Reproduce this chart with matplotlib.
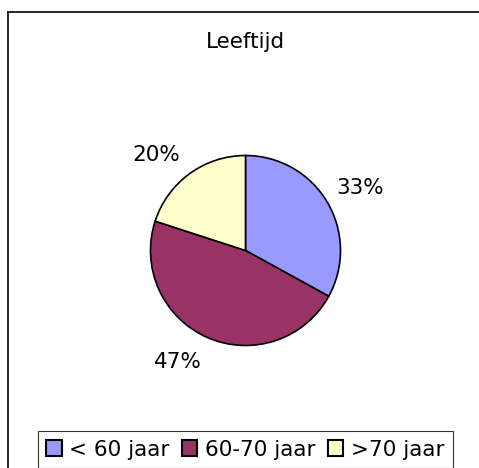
import matplotlib
matplotlib.use('Agg')
import matplotlib.pyplot as plt
from matplotlib.lines import Line2D
import numpy as np

# Data
categories = ['< 60 jaar', '60-70 jaar', '>70 jaar']
values = [33, 47, 20]
colors = ['#9999FF', '#993366', '#FFFFCC']
title = 'Leeftijd'

W, H = 479, 468
fig = plt.figure(figsize=(W / 100, H / 100), dpi=100)
plt.rcParams['font.family'] = 'DejaVu Sans'

# outer frame (only left and top visible)
fig.add_artist(Line2D([7.5 / W, 7.5 / W], [0, 1 - 12 / H], color='black', lw=1.2))
fig.add_artist(Line2D([7.5 / W, 1], [1 - 12 / H, 1 - 12 / H], color='black', lw=1.2))

# pie axes, centre (245.5, 250.5) px, radius 95 px
cx, cy, r = 245.5, 250.5, 95
ax = fig.add_axes([(cx - r) / W, 1 - (cy + r) / H, 2 * r / W, 2 * r / H])
wedges, texts, autotexts = ax.pie(values, colors=colors, startangle=90, counterclock=False,
                                  autopct='%d%%', pctdistance=1.37,
                                  wedgeprops=dict(edgecolor='black', linewidth=1.2),
                                  textprops=dict(fontsize=15.5, color='black'))
ax.set_xlim(-1, 1)
ax.set_ylim(-1, 1)

# Excel "best fit" nudges the small labels a bit around the pie
nudge = [-2, -8, 7]
for t, w, d in zip(autotexts, wedges, nudge):
    a = np.deg2rad((w.theta1 + w.theta2) / 2 + d)
    t.set_position((1.37 * np.cos(a), 1.37 * np.sin(a)))

fig.text(cx / W, 1 - 42 / H, title, ha='center', va='center', fontsize=15.5)

leg = fig.legend(wedges, categories, loc='center', bbox_to_anchor=(245.5 / W, 1 - 449.5 / H),
                 ncol=3, fontsize=15.5, frameon=True, fancybox=False, edgecolor='black',
                 handlelength=0.7, handleheight=0.7, handletextpad=0.35, columnspacing=0.6,
                 borderpad=0.4, borderaxespad=0)
leg.get_frame().set_linewidth(0.8)
for h in leg.legend_handles:
    h.set_linewidth(1.5)

fig.savefig('out.png', dpi=100)
